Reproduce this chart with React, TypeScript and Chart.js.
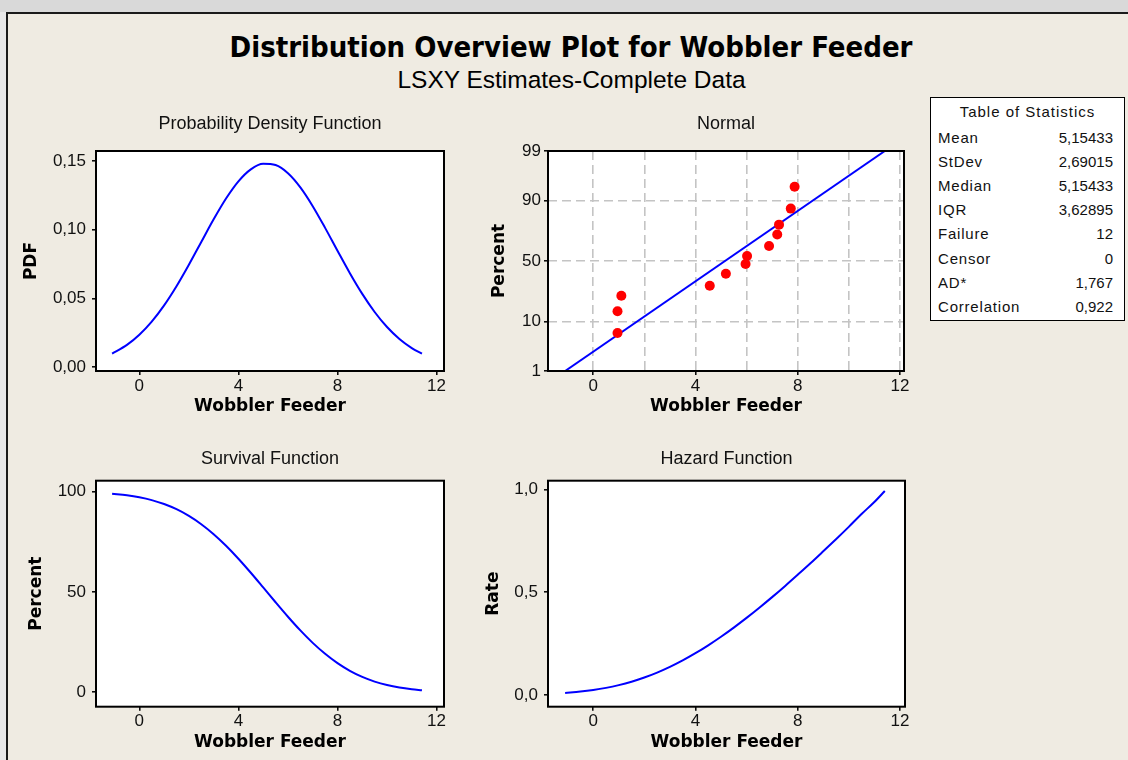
import React, { useEffect, useRef } from "react";
import { Chart, registerables } from "chart.js";

Chart.register(...registerables);

// ---------------- data ----------------
const curveX = [-1.1, -0.5, 0, 0.5, 1, 1.5, 2, 2.5, 3, 3.5, 4, 4.5, 5, 5.5, 6, 6.5, 7, 7.5, 8, 8.5, 9, 9.5, 10, 10.5, 11, 11.41];
const pdfValues = [0.00994, 0.01628, 0.02367, 0.03319, 0.04502, 0.05895, 0.07458, 0.09116, 0.10764, 0.12276, 0.13527, 0.14398, 0.14806, 0.14708, 0.14114, 0.13085, 0.11719, 0.10139, 0.08474, 0.06841, 0.05337, 0.04022, 0.02927, 0.02059, 0.01398, 0.00992];
const survivalPercent = [99.0, 98.22, 97.23, 95.82, 93.87, 91.28, 87.95, 83.81, 78.83, 73.07, 66.6, 59.6, 52.28, 44.88, 37.66, 30.84, 24.63, 19.16, 14.5, 10.68, 7.64, 5.31, 3.58, 2.34, 1.49, 1.0];
const hazardRate = [0.01, 0.0166, 0.0243, 0.0346, 0.048, 0.0646, 0.0848, 0.1088, 0.1366, 0.168, 0.2031, 0.2416, 0.2832, 0.3277, 0.3748, 0.4243, 0.4758, 0.5292, 0.5844, 0.6405, 0.6986, 0.7574, 0.8176, 0.8799, 0.9383, 0.992];

const failureTimes = [0.95, 0.95, 1.1, 4.56, 5.19, 5.96, 6.02, 6.88, 7.2, 7.27, 7.73, 7.88];
const failurePercent = [6.4, 14.4, 23.1, 30.0, 39.4, 47.5, 54.2, 62.5, 71.2, 77.9, 86.6, 94.2];
const fitLineX = [-1.1, 11.41];
const fitLinePercent = [1, 99];

const timeTicks = [0, 4, 8, 12];
const probGridTimes = [0, 2, 4, 6, 8, 10, 12];
const pdfTicks = [0, 0.05, 0.1, 0.15];
const survivalTicks = [0, 50, 100];
const hazardTicks = [0, 0.5, 1];
const percentTicks = [1, 10, 50, 90, 99];
const percentGrid = [10, 50, 90];

const statNames = ["Mean", "StDev", "Median", "IQR", "Failure", "Censor", "AD*", "Correlation"];
const statValues = ["5,15433", "2,69015", "5,15433", "3,62895", "12", "0", "1,767", "0,922"];

const mainTitle = "Distribution Overview Plot for Wobbler Feeder";
const subTitle = "LSXY Estimates-Complete Data";
const xAxisName = "Wobbler Feeder";

// ---------------- helpers ----------------
// inverse standard normal CDF (probability-paper scale transform)
function probit(pct: number): number {
  const p = pct / 100;
  const a = [-3.969683028665376e1, 2.209460984245205e2, -2.759285104469687e2, 1.38357751867269e2, -3.066479806614716e1, 2.506628277459239];
  const b = [-5.447609879822406e1, 1.615858368580409e2, -1.556989798598866e2, 6.680131188771972e1, -1.328068155288572e1];
  const c = [-7.784894002430293e-3, -3.223964580411365e-1, -2.400758277161838, -2.549732539343734, 4.374664141464968, 2.938163982698783];
  const d = [7.784695709041462e-3, 3.224671290700398e-1, 2.445134137142996, 3.754408661907416];
  const pl = 0.02425;
  if (p < pl) {
    const q = Math.sqrt(-2 * Math.log(p));
    return (((((c[0] * q + c[1]) * q + c[2]) * q + c[3]) * q + c[4]) * q + c[5]) / ((((d[0] * q + d[1]) * q + d[2]) * q + d[3]) * q + 1);
  }
  if (p > 1 - pl) {
    const q = Math.sqrt(-2 * Math.log(1 - p));
    return -(((((c[0] * q + c[1]) * q + c[2]) * q + c[3]) * q + c[4]) * q + c[5]) / ((((d[0] * q + d[1]) * q + d[2]) * q + d[3]) * q + 1);
  }
  const q = p - 0.5;
  const r = q * q;
  return ((((((a[0] * r + a[1]) * r + a[2]) * r + a[3]) * r + a[4]) * r + a[5]) * q) / (((((b[0] * r + b[1]) * r + b[2]) * r + b[3]) * r + b[4]) * r + 1);
}

const comma = (v: number, digits: number) => v.toFixed(digits).replace(".", ",");

const TICK_FONT = { family: "'Liberation Sans', Arial, sans-serif", size: 17 };
const AXIS_TITLE_FONT = { family: "'DejaVu Sans', Verdana, sans-serif", size: 17, weight: "bold" as const };
const PANEL_TITLE_FONT = { family: "'Liberation Sans', Arial, sans-serif", size: 18, weight: "normal" as const };

const framePlugin = {
  id: "plotFrame",
  beforeDraw(chart: any) {
    const { ctx, chartArea: a } = chart;
    ctx.save();
    ctx.fillStyle = "#ffffff";
    ctx.fillRect(a.left, a.top, a.right - a.left, a.bottom - a.top);
    ctx.restore();
  },
  afterDraw(chart: any) {
    const { ctx, chartArea: a } = chart;
    ctx.save();
    ctx.strokeStyle = "#000000";
    ctx.lineWidth = 2;
    ctx.strokeRect(a.left, a.top, a.right - a.left, a.bottom - a.top);
    ctx.restore();
  },
};

interface PanelSpec {
  x: number; y: number; w: number; h: number;
  padTop: number; padRight: number;
  yAxisW: number; xAxisH: number;
  title: string; titleGap: number;
  yTitle: string; yTitlePad: number;
  xMin: number; xMax: number; yMin: number; yMax: number;
  xTickValues: number[]; xLabeled: (v: number) => boolean; xGridValues: number[];
  yTickValues: number[]; yLabels: string[]; yGridValues: number[];
  yTickPad: number; xTickPad: number; xTitlePadBottom: number;
  datasets: any[];
}

const near = (list: number[], v: number) => list.some((g) => Math.abs(g - v) < 1e-6);

function buildConfig(s: PanelSpec): any {
  const gridColor = (list: number[]) => (ctx: any) =>
    ctx.tick && near(list, ctx.tick.value) ? "#c4c4c4" : "rgba(0,0,0,0)";
  return {
    type: "line",
    data: { datasets: s.datasets },
    plugins: [framePlugin],
    options: {
      responsive: false,
      devicePixelRatio: 1,
      animation: false,
      events: [],
      layout: { padding: { left: 0, top: s.padTop, right: s.padRight, bottom: 0 } },
      plugins: {
        legend: { display: false },
        tooltip: { enabled: false },
        title: {
          display: true,
          text: s.title,
          fullSize: false,
          color: "#111111",
          font: PANEL_TITLE_FONT,
          padding: { top: 0, bottom: s.titleGap },
        },
      },
      scales: {
        x: {
          type: "linear",
          min: s.xMin,
          max: s.xMax,
          afterBuildTicks: (sc: any) => {
            sc.ticks = s.xTickValues.map((v) => ({ value: v }));
          },
          afterFit: (sc: any) => {
            sc.height = s.xAxisH;
          },
          ticks: {
            font: TICK_FONT,
            color: "#111111",
            padding: s.xTickPad,
            maxRotation: 0,
            minRotation: 0,
            autoSkip: false,
            callback: (v: number) => (s.xLabeled(v) ? String(v) : ""),
          },
          grid: {
            drawOnChartArea: s.xGridValues.length > 0,
            color: gridColor(s.xGridValues),
            lineWidth: 1.6,
            tickLength: 4,
            tickWidth: 1.5,
            tickBorderDash: [],
            tickColor: (ctx: any) => (ctx.tick && s.xLabeled(ctx.tick.value) ? "#000000" : "rgba(0,0,0,0)"),
          },
          border: { display: false, dash: [9, 5] },
          title: {
            display: true,
            text: xAxisName,
            color: "#000000",
            font: AXIS_TITLE_FONT,
            padding: { top: 0, bottom: s.xTitlePadBottom },
          },
        },
        y: {
          type: "linear",
          min: s.yMin,
          max: s.yMax,
          afterBuildTicks: (sc: any) => {
            sc.ticks = s.yTickValues.map((v) => ({ value: v }));
          },
          afterFit: (sc: any) => {
            sc.width = s.yAxisW;
          },
          ticks: {
            font: TICK_FONT,
            color: "#111111",
            padding: s.yTickPad,
            autoSkip: false,
            callback: (_v: number, i: number) => s.yLabels[i],
          },
          grid: {
            drawOnChartArea: s.yGridValues.length > 0,
            color: gridColor(s.yGridValues),
            lineWidth: 1.6,
            tickLength: 4,
            tickWidth: 1.5,
            tickBorderDash: [],
            tickColor: "#000000",
          },
          border: { display: false, dash: [9, 5] },
          title: {
            display: true,
            text: s.yTitle,
            color: "#000000",
            font: AXIS_TITLE_FONT,
            padding: { top: s.yTitlePad, bottom: 0 },
          },
        },
      },
    },
  };
}

function Panel({ spec }: { spec: PanelSpec }) {
  const ref = useRef<HTMLCanvasElement>(null);
  useEffect(() => {
    const chart = new Chart(ref.current as HTMLCanvasElement, buildConfig(spec));
    return () => chart.destroy();
  }, []);
  return (
    <canvas
      ref={ref}
      width={spec.w}
      height={spec.h}
      style={{ position: "absolute", left: spec.x, top: spec.y, width: spec.w, height: spec.h }}
    />
  );
}

const blueLine = (xs: number[], ys: number[]) => ({
  data: xs.map((x, i) => ({ x, y: ys[i] })),
  borderColor: "#0000ff",
  borderWidth: 2,
  pointRadius: 0,
  fill: false,
  cubicInterpolationMode: "monotone",
});

const everyFourth = (v: number) => Math.abs(v % 4) < 1e-9;

const pdfSpec: PanelSpec = {
  x: 10, y: 100, w: 450, h: 325,
  padTop: 13.2, padRight: 16, yAxisW: 86, xAxisH: 54,
  title: "Probability Density Function", titleGap: 16.2,
  yTitle: "PDF", yTitlePad: 11.3,
  xMin: -1.75, xMax: 12.3, yMin: -0.0027, yMax: 0.1573,
  xTickValues: timeTicks, xLabeled: () => true, xGridValues: [],
  yTickValues: pdfTicks, yLabels: pdfTicks.map((v) => comma(v, 2)), yGridValues: [],
  yTickPad: 6, xTickPad: 1, xTitlePadBottom: 7.8,
  datasets: [blueLine(curveX, pdfValues)],
};

const normalSpec: PanelSpec = {
  x: 470, y: 100, w: 450, h: 325,
  padTop: 13.2, padRight: 16, yAxisW: 78, xAxisH: 54,
  title: "Normal", titleGap: 16.2,
  yTitle: "Percent", yTitlePad: 19.8,
  xMin: -1.77, xMax: 12.16, yMin: probit(1), yMax: probit(99),
  xTickValues: probGridTimes, xLabeled: everyFourth, xGridValues: probGridTimes,
  yTickValues: percentTicks.map(probit), yLabels: percentTicks.map(String), yGridValues: percentGrid.map(probit),
  yTickPad: 3, xTickPad: 1, xTitlePadBottom: 7.8,
  datasets: [
    {
      data: failureTimes.map((x, i) => ({ x, y: probit(failurePercent[i]) })),
      showLine: false,
      pointRadius: 5,
      pointBackgroundColor: "#ff0000",
      pointBorderColor: "#ff0000",
      pointBorderWidth: 0,
    },
    {
      data: fitLineX.map((x, i) => ({ x, y: probit(fitLinePercent[i]) })),
      borderColor: "#0000ff",
      borderWidth: 2,
      pointRadius: 0,
      fill: false,
    },
  ],
};

const survivalSpec: PanelSpec = {
  x: 10, y: 430, w: 450, h: 330,
  padTop: 18.2, padRight: 16, yAxisW: 86, xAxisH: 53.3,
  title: "Survival Function", titleGap: 10.9,
  yTitle: "Percent", yTitlePad: 16.3,
  xMin: -1.75, xMax: 12.3, yMin: -7.2, yMax: 105.5,
  xTickValues: timeTicks, xLabeled: () => true, xGridValues: [],
  yTickValues: survivalTicks, yLabels: survivalTicks.map(String), yGridValues: [],
  yTickPad: 6, xTickPad: 0, xTitlePadBottom: 6.8,
  datasets: [blueLine(curveX, survivalPercent)],
};

const hazardSpec: PanelSpec = {
  x: 470, y: 430, w: 450, h: 330,
  padTop: 18.2, padRight: 15, yAxisW: 78, xAxisH: 53.3,
  title: "Hazard Function", titleGap: 10.9,
  yTitle: "Rate", yTitlePad: 13.8,
  xMin: -1.77, xMax: 12.2, yMin: -0.057, yMax: 1.042,
  xTickValues: timeTicks, xLabeled: () => true, xGridValues: [],
  yTickValues: hazardTicks, yLabels: hazardTicks.map((v) => comma(v, 1)), yGridValues: [],
  yTickPad: 6, xTickPad: 0, xTitlePadBottom: 6.8,
  datasets: [blueLine(curveX, hazardRate)],
};

function StatsTable() {
  const font = "'Liberation Sans', Arial, sans-serif";
  return (
    <div
      style={{
        position: "absolute", left: 930, top: 97, width: 195, height: 224,
        border: "1px solid #000", boxSizing: "border-box", background: "#ffffff",
        fontFamily: font, color: "#111",
      }}
    >
      <div style={{ position: "absolute", left: 0, width: 193, top: 3.7, height: 20, lineHeight: "20px", fontSize: 15, textAlign: "center", letterSpacing: 1 }}>
        Table of Statistics
      </div>
      {statNames.map((name, i) => (
        <React.Fragment key={name}>
          <div style={{ position: "absolute", left: 7, top: 29.5 + i * 24.2, height: 20, lineHeight: "20px", fontSize: 15, letterSpacing: 0.8 }}>
            {name}
          </div>
          <div style={{ position: "absolute", right: 11, top: 29.5 + i * 24.2, height: 20, lineHeight: "20px", fontSize: 15, textAlign: "right" }}>
            {statValues[i]}
          </div>
        </React.Fragment>
      ))}
    </div>
  );
}

export default function App() {
  return (
    <div
      style={{
        position: "absolute", left: 0, top: 0, width: 1128, height: 760, overflow: "hidden",
        background: "#e8e8e8", fontFamily: "'Liberation Sans', Arial, sans-serif",
      }}
    >
      <div style={{ position: "absolute", left: 0, top: 0, width: 1128, height: 12, background: "#d9d9d9" }} />
      <div
        style={{
          position: "absolute", left: 6, top: 12, width: 1130, height: 760,
          background: "#efebe2", borderTop: "2px solid #1a1a1a", borderLeft: "2px solid #1a1a1a",
          boxSizing: "border-box",
        }}
      />
      <div
        style={{
          position: "absolute", left: 0, width: 1142, top: 32, height: 30, lineHeight: "30px",
          textAlign: "center", fontSize: 29, fontWeight: "bold", color: "#000",
          fontFamily: "'Liberation Sans Narrow', 'DejaVu Sans Condensed', 'Liberation Sans', Arial, sans-serif",
        }}
      >
        {mainTitle}
      </div>
      <div
        style={{
          position: "absolute", left: 0, width: 1143, top: 68, height: 24, lineHeight: "24px",
          textAlign: "center", fontSize: 24.5, color: "#000",
        }}
      >
        {subTitle}
      </div>
      <Panel spec={pdfSpec} />
      <Panel spec={normalSpec} />
      <Panel spec={survivalSpec} />
      <Panel spec={hazardSpec} />
      <StatsTable />
    </div>
  );
}
